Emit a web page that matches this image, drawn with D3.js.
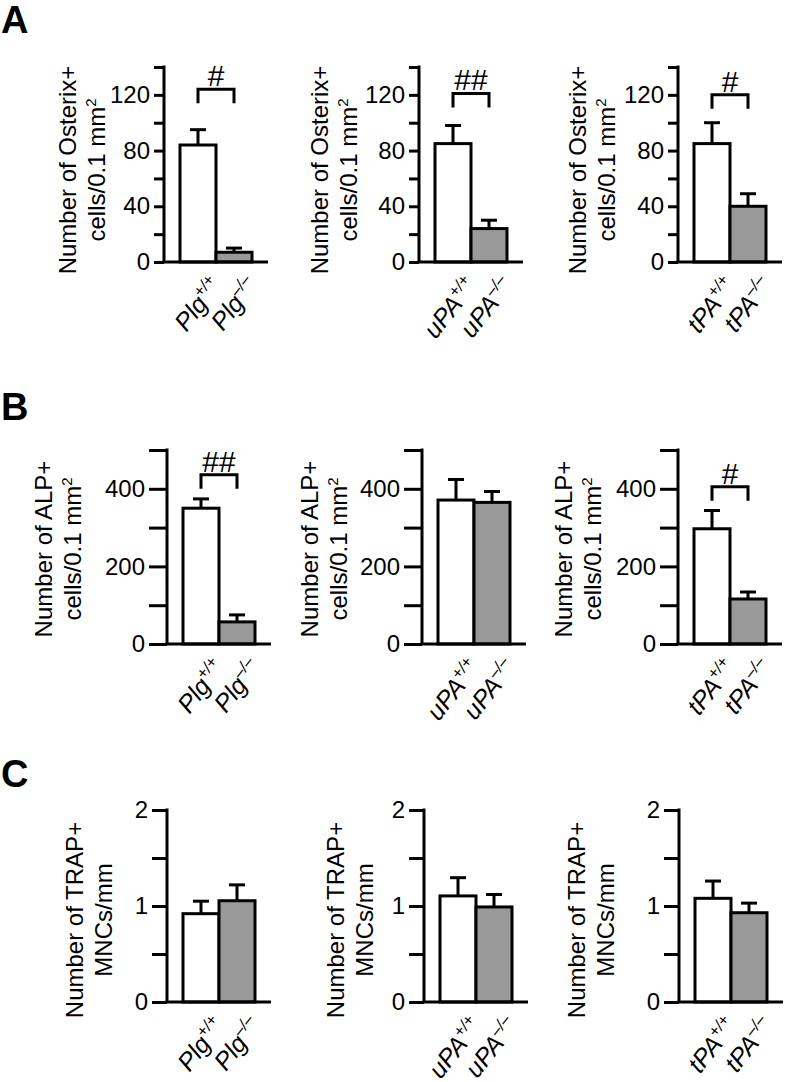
<!DOCTYPE html>
<html>
<head>
<meta charset="utf-8">
<script src="https://cdn.jsdelivr.net/npm/d3@7"></script>
<style>
  html, body { margin: 0; padding: 0; background: #fff; }
  svg { display: block; }
  text { font-family: "Liberation Sans", Arial, sans-serif; fill: #000; }
</style>
</head>
<body>
<svg id="chart" width="788" height="1082"></svg>
<script>
// ---------------- data ----------------
const genotypes = ["Plg", "uPA", "tPA"];
const alleles = ["+/+", "–/–"];

const osterixMean = [[84, 7], [85, 24], [85, 40]];
const osterixSem  = [[11, 3], [13, 6], [15, 9]];
const osterixSig  = ["#", "##", "#"];
const osterixSigLevel = [124, 121, 120];
const osterixTicks = [0, 20, 40, 60, 80, 100, 120, 140];
const osterixTickLabels = [0, 40, 80, 120];

const alpMean = [[350, 57], [371, 365], [297, 116]];
const alpSem  = [[24, 18], [53, 28], [47, 18]];
const alpSig  = ["##", "", "#"];
const alpSigLevel = [436, null, 405];
const alpTicks = [0, 100, 200, 300, 400, 500];
const alpTickLabels = [0, 200, 400];

const trapMean = [[0.92, 1.055], [1.105, 0.99], [1.08, 0.93]];
const trapSem  = [[0.13, 0.165], [0.19, 0.13], [0.18, 0.10]];
const trapSig  = ["", "", ""];
const trapSigLevel = [null, null, null];
const trapTicks = [0, 0.5, 1, 1.5, 2];
const trapTickLabels = [0, 1, 2];

const barColors = ["#ffffff", "#999999"];

// ---------------- layout ----------------
const rows = [
  { letter: "A", letterY: 33, mean: osterixMean, sem: osterixSem, sig: osterixSig, sigLevel: osterixSigLevel,
    ticks: osterixTicks, tickLabels: osterixTickLabels, domain: [0, 140], top: 67, bottom: 262,
    axisX: [164, 419, 678], tickLen: 10, titleLines: [["Number of Osterix+"], ["cells/0.1 mm", "2"]],
    titleDx: [-96, -99, -100], titleCy: 170 },
  { letter: "B", letterY: 420, mean: alpMean, sem: alpSem, sig: alpSig, sigLevel: alpSigLevel,
    ticks: alpTicks, tickLabels: alpTickLabels, domain: [0, 500], top: 450, bottom: 644,
    axisX: [167, 422, 678], tickLen: 18, titleLines: [["Number of ALP+"], ["cells/0.1 mm", "2"]],
    titleDx: [-123, -112, -114], titleCy: 549 },
  { letter: "C", letterY: 787, mean: trapMean, sem: trapSem, sig: trapSig, sigLevel: trapSigLevel,
    ticks: trapTicks, tickLabels: trapTickLabels, domain: [0, 2], top: 810, bottom: 1002,
    axisX: [167, 424, 679], tickLen: 15, titleLines: [["Number of TRAP+"], ["MNCs/mm"]],
    titleDx: [-92, -88, -102], titleCy: 920 }
];
const titleGap = 29;

const svg = d3.select("#chart");
svg.append("rect").attr("width", 788).attr("height", 1082).attr("fill", "#fff");

const LW = 3;

rows.forEach(row => {
  svg.append("text")
    .attr("x", 1).attr("y", row.letterY)
    .attr("font-size", 38).attr("font-weight", "bold")
    .text(row.letter);

  genotypes.forEach((g, gi) => {
    const ax = row.axisX[gi];
    const y = d3.scaleLinear().domain(row.domain).range([row.bottom, row.top]);
    const x = d3.scaleBand().domain(alleles).range([ax + 16, ax + 88]).padding(0);
    const panel = svg.append("g");

    // y axis
    const yAxis = d3.axisLeft(y)
      .tickValues(row.ticks)
      .tickSize(row.tickLen)
      .tickSizeOuter(0)
      .tickPadding(4)
      .tickFormat(d => row.tickLabels.includes(d) ? d3.format("d")(d) : "");
    const yg = panel.append("g").attr("transform", `translate(${ax},0)`).call(yAxis);
    yg.select(".domain").attr("stroke", "#000").attr("stroke-width", LW).attr("d", `M0,${row.bottom}V${row.top - 1.5}`);
    yg.selectAll(".tick line").attr("stroke", "#000").attr("stroke-width", LW);
    yg.selectAll(".tick text").attr("font-size", 24).attr("font-family", '"Liberation Sans", Arial, sans-serif').attr("fill", "#000");

    // bars
    const vals = alleles.map((a, i) => ({ a, m: row.mean[gi][i], s: row.sem[gi][i], c: barColors[i] }));
    panel.selectAll("rect.bar").data(vals).enter().append("rect")
      .attr("class", "bar")
      .attr("x", d => x(d.a))
      .attr("width", x.bandwidth())
      .attr("y", d => y(d.m))
      .attr("height", d => y(0) - y(d.m))
      .attr("fill", d => d.c)
      .attr("stroke", "#000").attr("stroke-width", LW);

    // error bars (upper)
    vals.forEach(d => {
      const cx = x(d.a) + x.bandwidth() / 2;
      panel.append("line").attr("x1", cx).attr("x2", cx)
        .attr("y1", y(d.m)).attr("y2", y(d.m + d.s))
        .attr("stroke", "#000").attr("stroke-width", LW);
      panel.append("line").attr("x1", cx - 8).attr("x2", cx + 8)
        .attr("y1", y(d.m + d.s)).attr("y2", y(d.m + d.s))
        .attr("stroke", "#000").attr("stroke-width", LW);
    });

    // x axis line
    panel.append("line").attr("x1", ax - 1.5).attr("x2", ax + 104)
      .attr("y1", y(0)).attr("y2", y(0))
      .attr("stroke", "#000").attr("stroke-width", LW);

    // x labels
    alleles.forEach(a => {
      const cx = x(a) + x.bandwidth() / 2;
      const t = panel.append("text")
        .attr("text-anchor", "end")
        .attr("transform", `translate(${cx + 25},${y(0) + 24}) rotate(-52)`)
        .attr("font-size", 25).attr("font-style", "italic");
      t.append("tspan").text(g);
      t.append("tspan").attr("font-size", 16).attr("dy", -10).text(a);
    });

    // significance bracket
    const lvl = row.sigLevel[gi];
    if (row.sig[gi] && lvl != null) {
      const c1 = x(alleles[0]) + x.bandwidth() / 2;
      const c2 = x(alleles[1]) + x.bandwidth() / 2;
      const yb = y(lvl);
      panel.append("path")
        .attr("d", `M${c1},${yb + 14}V${yb}H${c2}V${yb + 14}`)
        .attr("fill", "none").attr("stroke", "#000").attr("stroke-width", LW);
      panel.append("text").attr("x", (c1 + c2) / 2).attr("y", yb - 3)
        .attr("text-anchor", "middle").attr("font-size", 30).text(row.sig[gi]);
    }

    // y title
    row.titleLines.forEach((parts, li) => {
      const t = panel.append("text")
        .attr("text-anchor", "middle")
        .attr("transform", `translate(${ax + row.titleDx[gi] + li * titleGap},${row.titleCy}) rotate(-90)`)
        .attr("dy", "0.35em")
        .attr("font-size", 24);
      t.append("tspan").text(parts[0]);
      if (parts[1]) t.append("tspan").attr("font-size", 15).attr("dy", "-0.6em").text(parts[1]);
    });
  });
});
</script>
</body>
</html>
